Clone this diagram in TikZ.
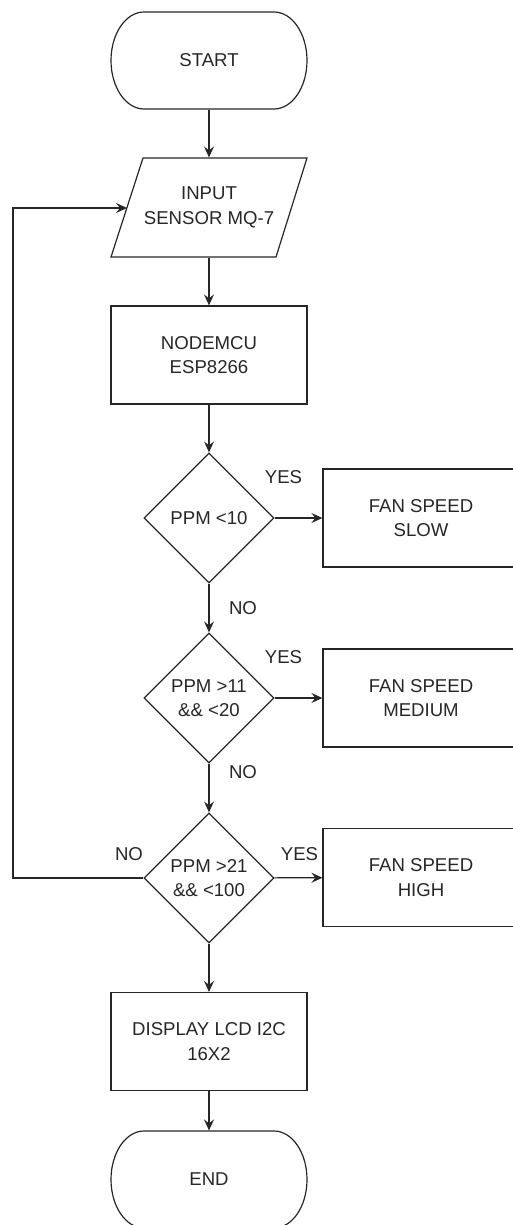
\documentclass[tikz,border=0pt]{standalone}
\usepackage{fontspec}
\setmainfont{Liberation Sans}
\usetikzlibrary{shapes.geometric,arrows.meta}
\newcommand\myterm[2]{\draw (#1-65,#2-48.5) -- (#1+65,#2-48.5) .. controls (#1+83.2,#2-48.5) and (#1+98,#2-26.8) .. (#1+98,#2) .. controls (#1+98,#2+26.8) and (#1+83.2,#2+48.5) .. (#1+65,#2+48.5) -- (#1-65,#2+48.5) .. controls (#1-83.2,#2+48.5) and (#1-98,#2+26.8) .. (#1-98,#2) .. controls (#1-98,#2-26.8) and (#1-83.2,#2-48.5) .. cycle;}
\begin{document}
\begin{tikzpicture}[x=1pt,y=-1pt,
  color=black!85,
  line width=1.2pt,
  every node/.style={font=\fontsize{18.6}{24.5}\selectfont},
  box/.style={draw, rectangle, minimum width=196pt, minimum height=98pt, align=center, inner sep=0pt},
  term/.style={rectangle, minimum width=196pt, minimum height=97pt, align=center, inner sep=0pt},
  dec/.style={draw, diamond, minimum width=130pt, minimum height=130pt, aspect=1, inner sep=0pt, align=center},
  lbl/.style={inner sep=0pt},
  arr/.style={-{Stealth[length=11pt,width=10pt,inset=4pt]}},
]
\useasboundingbox (0,0) rectangle (512,1225);
% terminators
\myterm{209}{60.5}
\node[term] (start) at (209,60.5) {START};
\myterm{209}{1179.5}
\node[term] (end) at (209,1179.5) {END};
% input parallelogram
\draw (143,158) -- (307,158) -- (276,257) -- (111,257) -- cycle;
\node[term, minimum height=99pt] (input) at (209,207.5) {INPUT\\SENSOR MQ-7};
\coordinate (inL) at (127,208);
% process
\node[box] (mcu) at (209,355) {NODEMCU\\ESP8266};
\node[dec] (d1) at (209,518) {PPM <10};
\node[dec] (d2) at (209,698) {PPM >11\\\&\& <20};
\node[dec] (d3) at (209,878) {PPM >21\\\&\& <100};
\node[box] (slow) at (421,518) {FAN SPEED\\SLOW};
\node[box] (med) at (421,698) {FAN SPEED\\MEDIUM};
\node[box] (high) at (421,877.5) {FAN SPEED\\HIGH};
\node[box] (disp) at (209,1041.5) {DISPLAY LCD I2C\\16X2};
\coordinate (loopB) at (13,878);
\coordinate (loopT) at (13,208);
% connectors
\draw[arr] (start) -- (input);
\draw[arr] (input.south) -- (mcu);
\draw[arr] (mcu) -- (d1);
\draw[arr] (d1) -- (slow);
\draw[arr] (d1) -- (d2);
\draw[arr] (d2) -- (med);
\draw[arr] (d2) -- (d3);
\draw[arr] (d3) -- (high);
\draw[arr] (d3) -- (disp);
\draw[arr] (disp) -- (end.north);
\draw[arr] (d3.west) -- (loopB) -- (loopT) -- (inL);
% labels
\node[lbl] (y1) at (283.5,477.5) {YES};
\node[lbl] (n1) at (243,608) {NO};
\node[lbl] (y2) at (283.5,657) {YES};
\node[lbl] (n2) at (243,772) {NO};
\node[lbl] (n3) at (129,854) {NO};
\node[lbl] (y3) at (299.5,854) {YES};
\end{tikzpicture}
\end{document}
